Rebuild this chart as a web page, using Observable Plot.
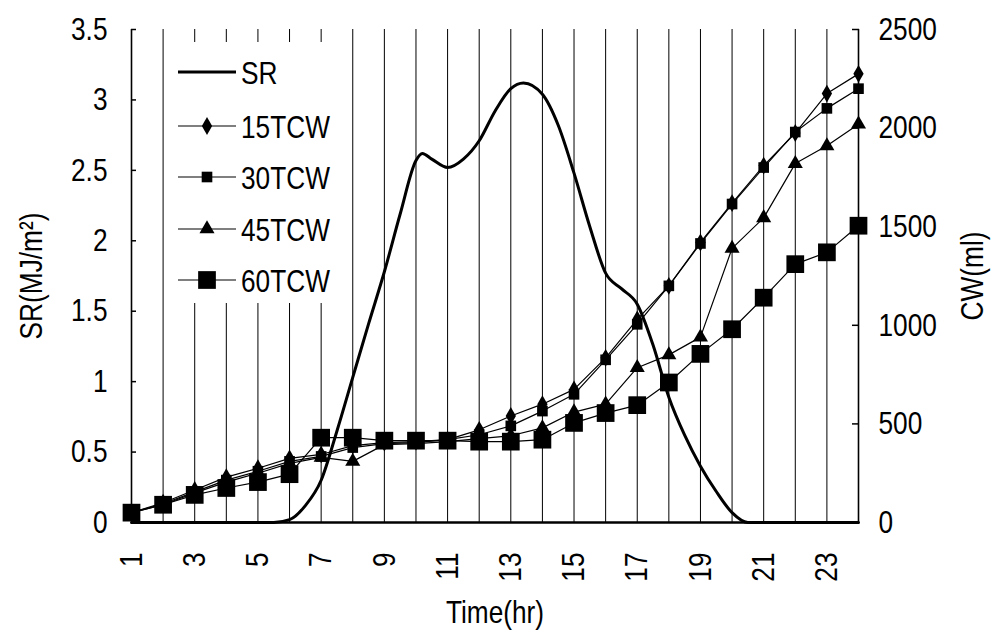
<!DOCTYPE html>
<html><head><meta charset="utf-8">
<script src="https://cdn.jsdelivr.net/npm/d3@7"></script>
<script src="https://cdn.jsdelivr.net/npm/@observablehq/plot@0.6"></script>
<style>
body{margin:0;background:#fff}
#chart{position:relative;width:1001px;height:632px}
</style>
</head><body><div id="chart"></div>
<script>
// ---- data ----
const hours = [1,2,3,4,5,6,7,8,9,10,11,12,13,14,15,16,17,18,19,20,21,22,23,24];
const cw15 = [50,100,165,230,275,325,345,390,405,410,420,470,540,600,675,835,1030,1200,1420,1620,1810,1975,2175,2275];
const cw30 = [50,95,155,215,260,310,335,380,400,405,420,445,490,565,650,825,1005,1200,1415,1615,1800,1980,2100,2200];
const cw45 = [50,90,150,205,250,300,330,310,395,400,410,425,440,480,560,600,785,850,940,1390,1545,1820,1910,2020];
const cw60 = [50,90,140,175,205,245,430,430,415,415,415,410,410,420,505,555,595,710,855,980,1140,1310,1370,1505];
const srTime  = [1,2,3,4,5,5.5,6,6.5,7,7.5,8,8.5,9,9.5,10,10.2,10.5,11,11.5,12,12.5,13,13.4,14,14.5,15,15.5,16,16.5,17,17.5,18,18.5,19,19.5,20,20.5,21,22,23,24];
const srValue = [0,0,0,0,0,0,0.02,0.12,0.30,0.65,1.03,1.41,1.78,2.19,2.57,2.62,2.58,2.52,2.58,2.71,2.92,3.08,3.12,3.04,2.82,2.48,2.10,1.77,1.66,1.55,1.26,0.89,0.62,0.40,0.22,0.07,0,0,0,0,0];
const seriesNames = ["SR","15TCW","30TCW","45TCW","60TCW"];
const srTicks = [0,0.5,1,1.5,2,2.5,3,3.5];
const cwTicks = [0,500,1000,1500,2000,2500];
const hourTicks = [1,3,5,7,9,11,13,15,17,19,21,23];
const srMax = 3.5, cwMax = 2500;

// ---- build ----
const toSR = v => v * srMax / cwMax;
const sr = srTime.map((t,i)=>({t, v: srValue[i]}));
const cwSeries = [
  {name:"15TCW", vals:cw15, symbol:"diamond", r:5.4},
  {name:"30TCW", vals:cw30, symbol:"square", r:6},
  {name:"45TCW", vals:cw45, symbol:"triangle", r:5.6},
  {name:"60TCW", vals:cw60, symbol:"square", r:10}
];
const FONT = "'Liberation Sans',Arial,sans-serif";
const FS = 32;
const NARROW = 0.82;

const marks = [
  Plot.ruleX(hours, {y1:0, y2:srMax, stroke:"black", strokeWidth:1}),
  Plot.ruleX([1,24], {y1:0, y2:srMax, stroke:"black", strokeWidth:1.6}),
  Plot.line(sr, {x:"t", y:"v", curve:"monotone-x", stroke:"black", strokeWidth:3}),
];
for (const s of cwSeries) {
  const rows = hours.map((h,i)=>({h, v: toSR(s.vals[i])}));
  marks.push(Plot.line(rows, {x:"h", y:"v", stroke:"black", strokeWidth:1.2}));
}
for (const s of cwSeries) {
  const rows = hours.map((h,i)=>({h, v: toSR(s.vals[i])}));
  marks.push(Plot.dot(rows, {x:"h", y:"v", symbol:s.symbol, r:s.r, fill:"black", stroke:"none"}));
}
marks.push(
  Plot.ruleY([0], {x1:1, x2:24, stroke:"black", strokeWidth:2.5}),
  Plot.axisY(srTicks, {anchor:"left", tickSize:0, tickPadding:24, fontSize:FS, fontFamily:FONT,
    tickFormat: d => String(d),
    label:"SR(MJ/m²)", labelAnchor:"center", labelOffset:112, labelArrow:"none"}),
  Plot.axisY(srTicks, {anchor:"left", tickSize:-5, text:null, label:null, strokeWidth:1.5}),
  Plot.axisY(cwTicks.map(toSR), {anchor:"right", tickSize:0, tickPadding:20, fontSize:FS, fontFamily:FONT,
    tickFormat: d => String(Math.round(d*cwMax/srMax)),
    label:"CW(ml)", labelAnchor:"center", labelOffset:124, labelArrow:"none"}),
  Plot.axisY(cwTicks.map(toSR), {anchor:"right", tickSize:-7, text:null, label:null, strokeWidth:1.5}),
  Plot.axisX(hourTicks, {anchor:"bottom", tickSize:0, tickPadding:30, tickRotate:-90, fontSize:FS, fontFamily:FONT,
    label:"Time(hr)", labelAnchor:"center", labelOffset:100, labelArrow:"none"})
);

const chart = Plot.plot({
  width:1001, height:632,
  marginLeft:131, marginRight:143, marginTop:29, marginBottom:110,
  x:{domain:[1,24]},
  y:{domain:[0,srMax]},
  style:{fontFamily:FONT, fontSize:FS+"px", color:"black", background:"white"},
  marks
});
document.getElementById("chart").appendChild(chart);

// ---- legend (inside the plot area, white box hides the grid) ----
const svg = d3.select(chart);
const lg = svg.append("g").attr("class","legend");
lg.append("rect").attr("x",166).attr("y",42).attr("width",176).attr("height",261).attr("fill","white");
const rowY = [72,126,177,229,280];
const symMap = {diamond:d3.symbolDiamond, square:d3.symbolSquare, triangle:d3.symbolTriangle};
seriesNames.forEach((name,i)=>{
  const y = rowY[i];
  lg.append("line").attr("x1",178).attr("x2",236).attr("y1",y).attr("y2",y)
    .attr("stroke","black").attr("stroke-width", i===0 ? 3 : 1.2);
  if (i>0) {
    const s = cwSeries[i-1];
    lg.append("path").attr("d", d3.symbol(symMap[s.symbol], Math.PI*s.r*s.r)())
      .attr("transform",`translate(207,${y})`).attr("fill","black");
  }
  lg.append("text").attr("x",241).attr("y",y).attr("dy","0.36em").attr("text-anchor","start")
    .attr("font-family",FONT).attr("font-size",FS).attr("fill","black").text(name);
});

// narrow (condensed) look of the original lettering
svg.selectAll("text").each(function(){
  const L = this.getComputedTextLength();
  if (L > 0) {
    this.setAttribute("textLength", (L*NARROW).toFixed(1));
    this.setAttribute("lengthAdjust","spacingAndGlyphs");
  }
});
</script>
</body></html>
